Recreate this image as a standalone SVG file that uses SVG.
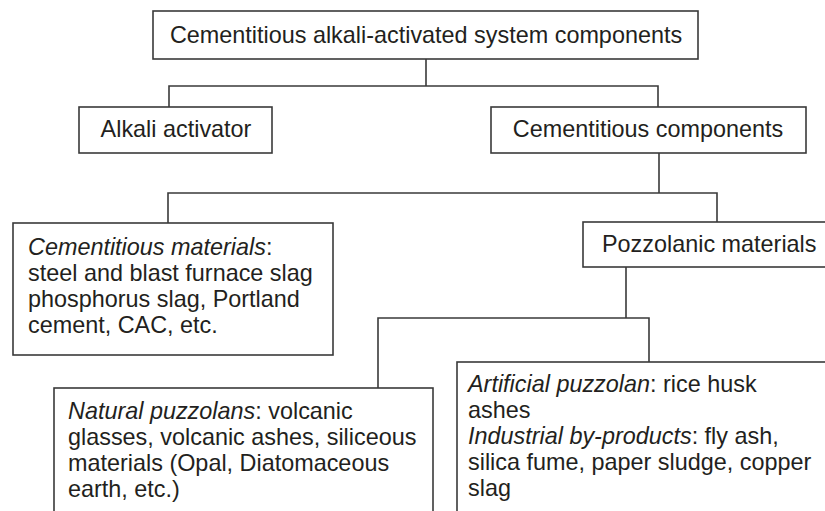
<svg xmlns="http://www.w3.org/2000/svg" width="825" height="511" viewBox="0 0 825 511">
<style>
.box{fill:#fff;stroke:#3a3a3a;stroke-width:1.6}
.ln{fill:none;stroke:#3a3a3a;stroke-width:1.6}
text{font-family:"Liberation Sans",Arial,sans-serif;font-size:23.4px;fill:#231f20}
.it{font-style:italic}
</style>
<rect width="825" height="511" fill="#fff"/>
<g id="connectors">
<path class="ln" d="M426 59V86M169 107V86H658V107"/>
<path class="ln" d="M659 153V193M168 223V193H717V222"/>
<path class="ln" d="M626 267V318M378 388V318H649V362"/>
</g>
<g id="root">
<rect class="box" x="153" y="11" width="545" height="48"/>
<text x="426" y="43" text-anchor="middle">Cementitious alkali-activated system components</text>
</g>
<g id="alkali">
<rect class="box" x="79" y="107" width="193" height="46"/>
<text x="176" y="137" text-anchor="middle">Alkali activator</text>
</g>
<g id="cementitious-components">
<rect class="box" x="491" y="107" width="315" height="46"/>
<text x="648" y="137" text-anchor="middle">Cementitious components</text>
</g>
<g id="cementitious-materials">
<rect class="box" x="13" y="223" width="320" height="132"/>
<text x="28" y="255"><tspan class="it">Cementitious materials</tspan>:</text>
<text x="28" y="281">steel and blast furnace slag</text>
<text x="28" y="307">phosphorus slag, Portland</text>
<text x="28" y="333">cement, CAC, etc.</text>
</g>
<g id="pozzolanic">
<rect class="box" x="583" y="222" width="260" height="45"/>
<text x="602" y="252">Pozzolanic materials</text>
</g>
<g id="natural">
<rect class="box" x="54" y="388" width="379" height="140"/>
<text x="68" y="419"><tspan class="it">Natural puzzolans</tspan>: volcanic</text>
<text x="68" y="445">glasses, volcanic ashes, siliceous</text>
<text x="68" y="471">materials (Opal, Diatomaceous</text>
<text x="68" y="497">earth, etc.)</text>
</g>
<g id="artificial">
<rect class="box" x="457" y="362" width="390" height="170"/>
<text x="468" y="392"><tspan class="it">Artificial puzzolan</tspan>: rice husk</text>
<text x="468" y="418">ashes</text>
<text x="468" y="444"><tspan class="it">Industrial by-products</tspan>: fly ash,</text>
<text x="468" y="470">silica fume, paper sludge, copper</text>
<text x="468" y="496">slag</text>
</g>
</svg>
